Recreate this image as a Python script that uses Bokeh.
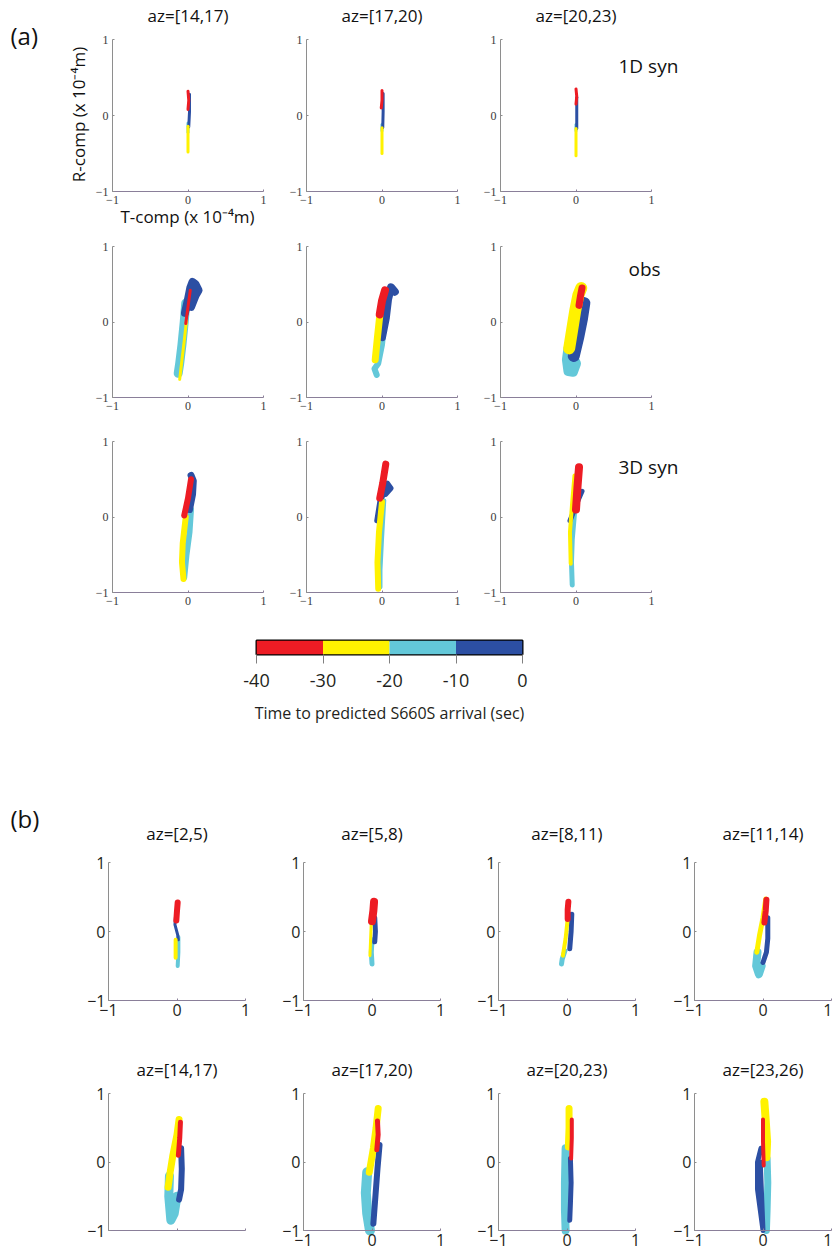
import math
from bokeh.plotting import figure
from bokeh.models import Range1d, FixedTicker, Label
from bokeh.layouts import column, row
from bokeh.embed import file_html
from bokeh.resources import INLINE

# ------------------------------------------------------------------ data
TIME_EDGES = [-40, -30, -20, -10, 0]
TIME_TICKS = [-40, -30, -20, -10, 0]
TIME_TICK_LABELS = ["-40", "-30", "-20", "-10", "0"]
BIN_KEYS = ["red", "yellow", "cyan", "blue"]          # -40..-30, -30..-20, -20..-10, -10..0 s
BIN_COLORS = ["#ed1c24", "#fff200", "#63c8d9", "#2c4fa3"]
AXIS_TICKS = [-1, 0, 1]
AXIS_TICK_LABELS = ["\u22121", "0", "1"]

AZ_A = ["az=[14,17)", "az=[17,20)", "az=[20,23)"]
ROW_NAMES_A = ["1D syn", "obs", "3D syn"]
AZ_B = ["az=[2,5)", "az=[5,8)", "az=[8,11)", "az=[11,14)",
        "az=[14,17)", "az=[17,20)", "az=[20,23)", "az=[23,26)"]
CBAR_LABEL = "Time to predicted S660S arrival (sec)"
Y_LABEL = "R-comp (x 10\u207b\u2074m)"
X_LABEL = "T-comp (x 10\u207b\u2074m)"

# particle-motion traces: (T-comp, R-comp) in 1e-4 m, per time bin
syn1d_14_17 = {
    "cyan": ([0.0, 0.0], [-0.10, -0.22]),
    "blue": ([0.02, 0.02, 0.01], [0.28, 0.05, -0.15]),
    "yellow": ([0.0, 0.0], [-0.14, -0.48]),
    "red": ([0.0, 0.01, 0.0], [0.32, 0.20, 0.08]),
}
syn1d_17_20 = {
    "cyan": ([0.0, 0.0], [-0.12, -0.20]),
    "blue": ([0.015, 0.015, 0.01], [0.29, 0.05, -0.16]),
    "yellow": ([0.0, 0.0], [-0.16, -0.50]),
    "red": ([0.0, 0.0, -0.01], [0.33, 0.20, 0.10]),
}
syn1d_20_23 = {
    "cyan": ([0.0, 0.0], [-0.12, -0.20]),
    "blue": ([0.01, 0.01, 0.01], [0.24, 0.05, -0.17]),
    "yellow": ([0.0, 0.0], [-0.17, -0.53]),
    "red": ([0.0, 0.01, 0.0], [0.35, 0.25, 0.15]),
}
obs_14_17 = {
    "cyan": ([-0.03, -0.05, -0.08, -0.11, -0.13], [0.25, 0.0, -0.30, -0.55, -0.68]),
    "blue": ([-0.04, 0.0, 0.03, 0.06, 0.10, 0.14, 0.10, 0.04], [0.12, 0.30, 0.45, 0.53, 0.50, 0.42, 0.35, 0.20]),
    "yellow": ([-0.02, -0.05, -0.08, -0.11], [0.02, -0.25, -0.50, -0.76]),
    "red": ([0.03, 0.0, -0.03], [0.42, 0.20, -0.02]),
}
obs_17_20 = {
    "cyan": ([0.03, 0.0, -0.05, -0.10, -0.07], [0.0, -0.30, -0.55, -0.62, -0.70]),
    "blue": ([0.0, 0.05, 0.08, 0.12, 0.17], [-0.20, 0.05, 0.30, 0.46, 0.40]),
    "yellow": ([-0.03, -0.06, -0.09], [0.08, -0.20, -0.50]),
    "red": ([-0.03, 0.0, 0.04], [0.10, 0.28, 0.42]),
}
obs_20_23 = {
    "cyan": ([-0.10, -0.12, -0.10, -0.04, 0.0, -0.05], [-0.35, -0.50, -0.65, -0.66, -0.55, -0.45]),
    "blue": ([-0.03, 0.03, 0.08, 0.11], [-0.45, -0.20, 0.05, 0.25]),
    "yellow": ([-0.09, -0.05, -0.01, 0.03, 0.07], [-0.35, -0.10, 0.15, 0.35, 0.45]),
    "red": ([0.04, 0.06, 0.08], [0.22, 0.35, 0.45]),
}
syn3d_14_17 = {
    "cyan": ([0.04, 0.02, -0.02, -0.05], [0.10, -0.20, -0.50, -0.80]),
    "blue": ([0.02, 0.06, 0.07, 0.04], [0.10, 0.30, 0.48, 0.55]),
    "yellow": ([-0.03, -0.07, -0.08, -0.06], [0.0, -0.35, -0.60, -0.82]),
    "red": ([-0.05, 0.0, 0.04], [0.02, 0.25, 0.50]),
}
syn3d_17_20 = {
    "cyan": ([0.03, 0.0, -0.02, -0.02], [0.22, -0.30, -0.70, -0.93]),
    "blue": ([-0.07, -0.03, 0.02, 0.07, 0.12, 0.05], [-0.05, 0.20, 0.30, 0.45, 0.38, 0.30]),
    "yellow": ([0.0, -0.04, -0.06, -0.05], [0.20, -0.20, -0.60, -0.95]),
    "red": ([-0.03, 0.01, 0.05], [0.25, 0.45, 0.70]),
}
syn3d_20_23 = {
    "cyan": ([-0.02, -0.05, -0.06, -0.05], [0.05, -0.30, -0.60, -0.90]),
    "blue": ([-0.08, -0.02, 0.04, 0.08], [-0.05, 0.10, 0.25, 0.34]),
    "yellow": ([-0.02, -0.05, -0.08, -0.07], [0.55, 0.20, -0.20, -0.62]),
    "red": ([0.0, 0.02, 0.04], [0.10, 0.40, 0.66]),
}
obs_b_2_5 = {
    "cyan": ([0.02, 0.02, 0.01], [-0.08, -0.30, -0.50]),
    "blue": ([-0.02, -0.03, 0.01, 0.02], [0.25, 0.10, -0.05, -0.12]),
    "yellow": ([-0.02, -0.02], [-0.12, -0.38]),
    "red": ([-0.01, 0.0, 0.01], [0.16, 0.30, 0.42]),
}
obs_b_5_8 = {
    "cyan": ([0.0, -0.01, 0.0], [-0.12, -0.30, -0.47]),
    "blue": ([0.04, 0.05, 0.04], [0.20, 0.0, -0.15]),
    "yellow": ([-0.01, -0.02, -0.03], [0.15, -0.10, -0.35]),
    "red": ([0.0, 0.02, 0.03], [0.15, 0.30, 0.43]),
}
obs_b_8_11 = {
    "cyan": ([-0.03, -0.07, -0.08], [-0.28, -0.40, -0.47]),
    "blue": ([0.07, 0.06, 0.04], [0.25, 0.0, -0.25]),
    "yellow": ([0.01, -0.02, -0.06], [0.18, -0.10, -0.35]),
    "red": ([0.01, 0.01, 0.02], [0.18, 0.32, 0.43]),
}
obs_b_11_14 = {
    "cyan": ([-0.08, -0.10, -0.06, -0.02], [-0.30, -0.50, -0.62, -0.50]),
    "blue": ([0.07, 0.07, 0.05, 0.0], [0.20, -0.10, -0.30, -0.45]),
    "yellow": ([0.04, 0.0, -0.05, -0.09], [0.47, 0.20, -0.05, -0.30]),
    "red": ([0.02, 0.04, 0.05], [0.13, 0.30, 0.46]),
}
obs_b_14_17 = {
    "cyan": ([-0.11, -0.12, -0.09, -0.04, 0.0], [-0.20, -0.50, -0.85, -0.75, -0.50]),
    "blue": ([0.06, 0.07, 0.06, 0.03], [0.20, -0.10, -0.40, -0.55]),
    "yellow": ([0.03, 0.0, -0.06, -0.10, -0.13], [0.62, 0.40, 0.10, -0.15, -0.37]),
    "red": ([0.05, 0.04, 0.02], [0.58, 0.35, 0.10]),
}
obs_b_17_20 = {
    "cyan": ([-0.07, -0.09, -0.07, -0.03], [-0.15, -0.45, -0.75, -1.0]),
    "blue": ([0.11, 0.08, 0.05, 0.02], [0.25, -0.10, -0.50, -0.90]),
    "yellow": ([0.09, 0.06, 0.02, -0.04], [0.78, 0.50, 0.20, -0.15]),
    "red": ([0.08, 0.09, 0.07], [0.60, 0.40, 0.18]),
}
obs_b_20_23 = {
    "cyan": ([-0.02, -0.03, -0.03, -0.02], [0.20, -0.30, -0.70, -1.0]),
    "blue": ([0.05, 0.06, 0.05, 0.04], [0.05, -0.30, -0.60, -0.85]),
    "yellow": ([0.03, 0.03, 0.02], [0.78, 0.50, 0.22]),
    "red": ([0.07, 0.07, 0.06], [0.62, 0.35, 0.05]),
}
obs_b_23_26 = {
    "cyan": ([0.06, 0.07, 0.06, 0.05], [0.05, -0.30, -0.70, -1.0]),
    "blue": ([-0.03, -0.08, -0.08, -0.04, 0.0, -0.02, -0.04], [0.20, 0.0, -0.40, -0.70, -1.0, -0.50, 0.0]),
    "yellow": ([0.02, 0.04, 0.06, 0.05], [0.88, 0.60, 0.30, 0.07]),
    "red": ([0.0, 0.0, 0.01], [0.62, 0.30, -0.05]),
}

A_PANELS = [[syn1d_14_17, syn1d_17_20, syn1d_20_23],
            [obs_14_17, obs_17_20, obs_20_23],
            [syn3d_14_17, syn3d_17_20, syn3d_20_23]]
B_PANELS = [[obs_b_2_5, obs_b_5_8, obs_b_8_11, obs_b_11_14],
            [obs_b_14_17, obs_b_17_20, obs_b_20_23, obs_b_23_26]]

# ------------------------------------------------------------------ styles / layout
COLOR_OF = dict(zip(BIN_KEYS, BIN_COLORS))
DRAW_ORDER = ["cyan", "blue", "yellow", "red"]
A_WIDTHS = [
    [dict(cyan=3, blue=3, yellow=3, red=3)] * 3,
    [dict(cyan=9, blue=8, yellow=3, red=3), dict(cyan=6, blue=8, yellow=7, red=8),
     dict(cyan=10, blue=12, yellow=12, red=7)],
    [dict(cyan=6, blue=7, yellow=6, red=6), dict(cyan=4, blue=5, yellow=6, red=7),
     dict(cyan=5, blue=5, yellow=4, red=8)],
]
B_WIDTHS = [
    [dict(cyan=4, blue=3, yellow=4, red=6), dict(cyan=5, blue=5, yellow=3, red=8),
     dict(cyan=5, blue=5, yellow=4, red=6), dict(cyan=8, blue=5, yellow=5, red=6)],
    [dict(cyan=9, blue=6, yellow=7, red=5), dict(cyan=10, blue=6, yellow=7, red=5),
     dict(cyan=8, blue=5, yellow=7, red=4), dict(cyan=7, blue=5, yellow=8, red=4)],
]
X_AXIS_COLOR = "#8a7f99"
Y_AXIS_COLOR = "#8e8e8e"
SANS = "Open Sans"

# page-pixel layout: figure cells and the [-1,1] box inside each
A_COL_CELLS = [(0, 285), (285, 479), (479, 832)]
A_COL_FRAMES = [(112, 263), (306, 457), (500, 651)]
A_ROW_CELLS = [(0, 232), (232, 420), (420, 620)]
A_ROW_FRAMES = [(39, 191), (246, 397), (441, 592)]
B_COL_CELLS = [(0, 270), (270, 465), (465, 660), (660, 832)]
B_COL_FRAMES = [(108, 245), (303, 440), (498, 635), (694, 831)]
B_ROW_CELLS = [(790, 1030), (1030, 1253)]
B_ROW_FRAMES = [(862, 1000), (1093, 1230)]


def make_panel(xcell, xfr, ycell, yfr, serif, show_xlab=True):
    X0, X1 = xcell
    fl, fr = xfr
    Y0, Y1 = ycell
    ft, fb = yfr
    kx = (fr - fl) / 2.0
    ky = (fb - ft) / 2.0
    p = figure(width=X1 - X0, height=Y1 - Y0,
               x_range=Range1d(-1 - (fl - X0) / kx, 1 + (X1 - fr) / kx),
               y_range=Range1d(-1 - (Y1 - fb) / ky, 1 + (ft - Y0) / ky),
               min_border=0, output_backend="svg", toolbar_location=None)
    p.title = None
    p.grid.visible = False
    p.outline_line_color = None
    for ax, c in ((p.xaxis[0], X_AXIS_COLOR), (p.yaxis[0], Y_AXIS_COLOR)):
        ax.fixed_location = -1
        ax.bounds = (-1, 1)
        ax.ticker = FixedTicker(ticks=AXIS_TICKS)
        ax.major_label_overrides = {t: s for t, s in zip(AXIS_TICKS, AXIS_TICK_LABELS)}
        ax.axis_line_color = c
        ax.axis_line_width = 1
        ax.major_tick_line_color = c
        ax.minor_tick_line_color = None
        ax.major_tick_in = 2
        ax.major_tick_out = 0
        if serif:
            ax.major_label_text_font = "Liberation Serif"
            ax.major_label_text_font_size = "12px"
            ax.major_label_text_color = "#3a3a3a"
            ax.major_label_standoff = 4
        else:
            ax.major_label_text_font = SANS
            ax.major_label_text_font_size = "16px"
            ax.major_label_text_color = "#231f20"
            ax.major_label_standoff = 3
    if not show_xlab:
        p.xaxis[0].major_label_text_color = None

    def to_data(px, py):
        return (px - fl) / kx - 1.0, 1.0 - (py - ft) / ky
    return p, to_data


def add_traces(p, data, widths):
    for key in DRAW_ORDER:
        t, r = data[key]
        p.line(t, r, line_color=COLOR_OF[key], line_width=widths[key],
               line_cap="round", line_join="round")


def add_text(p, xy, text, size, align="center", baseline="middle", angle=0.0):
    p.add_layout(Label(x=xy[0], y=xy[1], text=text, text_font=SANS, text_font_size=f"{size}px",
                       text_align=align, text_baseline=baseline, angle=angle,
                       text_color="#111111"))


rows = []
# ------------------------------------------------------------------ part (a)
RIGHT_TEXT_POS = [(618, 65), (628, 268), (618, 466)]   # page px (left, middle)
for i in range(3):
    figs = []
    for j in range(3):
        p, to_data = make_panel(A_COL_CELLS[j], A_COL_FRAMES[j], A_ROW_CELLS[i], A_ROW_FRAMES[i],
                                serif=True)
        add_traces(p, A_PANELS[i][j], A_WIDTHS[i][j])
        cx = sum(A_COL_FRAMES[j]) / 2.0
        if i == 0:
            add_text(p, to_data(cx, 15), AZ_A[j], 17)
        if j == 2:
            add_text(p, to_data(*RIGHT_TEXT_POS[i]), ROW_NAMES_A[i], 19, align="left")
        if i == 0 and j == 0:
            add_text(p, to_data(10, 35), "(a)", 24, align="left")
            add_text(p, to_data(78, 114), Y_LABEL, 17, angle=math.pi / 2)
            add_text(p, to_data(187, 216), X_LABEL, 17)
        figs.append(p)
    rows.append(row(*figs))

# ------------------------------------------------------------------ colour bar
cb = figure(width=832, height=170, x_range=Range1d(TIME_EDGES[0], TIME_EDGES[-1]),
            y_range=Range1d(0, 1), min_border_left=256, min_border_right=310,
            min_border_top=20, min_border_bottom=136,
            output_backend="svg", toolbar_location=None)
cb.title = None
cb.quad(left=TIME_EDGES[:-1], right=TIME_EDGES[1:], bottom=0, top=1,
        fill_color=BIN_COLORS, line_color=None)
cb.grid.visible = False
cb.outline_line_color = "black"
cb.outline_line_width = 2
cb.yaxis.visible = False
cb.xaxis.ticker = FixedTicker(ticks=TIME_TICKS)
cb.xaxis.major_label_overrides = {t: s for t, s in zip(TIME_TICKS, TIME_TICK_LABELS)}
cb.xaxis.axis_line_color = None
cb.xaxis.major_tick_in = 0
cb.xaxis.major_tick_out = 9
cb.xaxis.major_tick_line_color = "#808080"
cb.xaxis.minor_tick_line_color = None
cb.xaxis.major_label_standoff = 10
cb.xaxis.major_label_text_font = SANS
cb.xaxis.major_label_text_font_size = "18px"
cb.xaxis.major_label_text_color = "#231f20"
cb.xaxis.axis_label = CBAR_LABEL
cb.xaxis.axis_label_text_font = SANS
cb.xaxis.axis_label_text_font_size = "16px"
cb.xaxis.axis_label_text_font_style = "normal"
cb.xaxis.axis_label_text_color = "#231f20"
cb.xaxis.axis_label_standoff = 12
rows.append(cb)

# ------------------------------------------------------------------ part (b)
B_TITLE_Y = [833, 1069]
for i in range(2):
    figs = []
    for j in range(4):
        p, to_data = make_panel(B_COL_CELLS[j], B_COL_FRAMES[j], B_ROW_CELLS[i], B_ROW_FRAMES[i],
                                serif=False, show_xlab=not (i == 1 and j == 0))
        add_traces(p, B_PANELS[i][j], B_WIDTHS[i][j])
        cx = sum(B_COL_FRAMES[j]) / 2.0
        add_text(p, to_data(cx, B_TITLE_Y[i]), AZ_B[i * 4 + j], 17)
        if i == 0 and j == 0:
            add_text(p, to_data(10, 818), "(b)", 24, align="left")
        figs.append(p)
    rows.append(row(*figs))

page = column(*rows)
open("out.html", "w").write(file_html(page, INLINE))
